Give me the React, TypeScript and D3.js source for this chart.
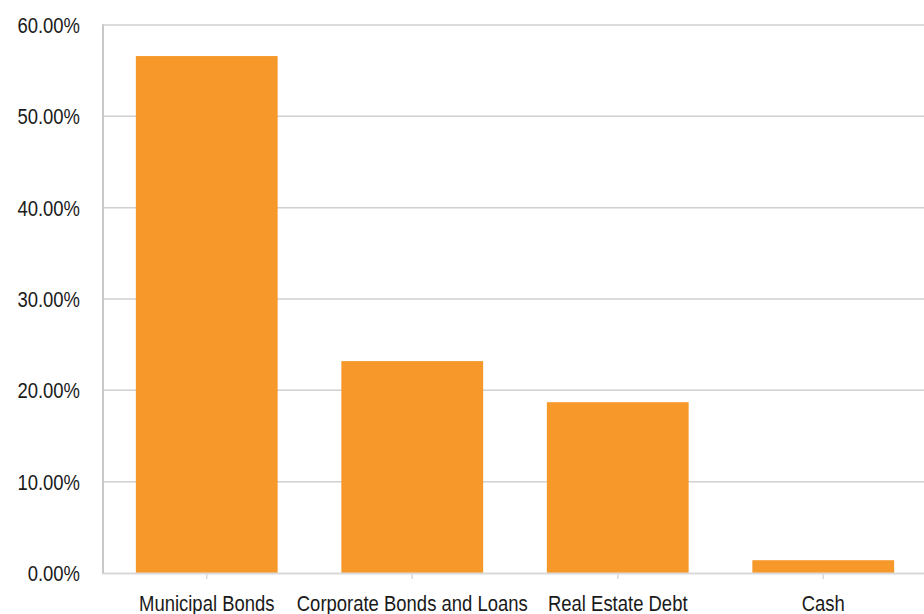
import React, { useEffect, useRef } from 'react';
import * as d3 from 'd3';

const categories = ['Municipal Bonds', 'Corporate Bonds and Loans', 'Real Estate Debt', 'Cash'];
const shares = [0.566, 0.232, 0.187, 0.014];
const yTicks = [0, 0.1, 0.2, 0.3, 0.4, 0.5, 0.6];

const width = 924;
const height = 614;
const margin = { top: 25, right: -2, bottom: 41, left: 104 };
const font = '"Liberation Sans", Arial, sans-serif';
const squeeze = 0.84;

export default function App() {
  const ref = useRef<SVGSVGElement>(null);

  useEffect(() => {
    const svg = d3.select(ref.current);
    svg.selectAll('*').remove();

    const x = d3.scaleBand<string>()
      .domain(categories)
      .range([margin.left, width - margin.right])
      .paddingInner(0.31)
      .paddingOuter(0.155);

    const y = d3.scaleLinear()
      .domain([0, 0.6])
      .range([height - margin.bottom, margin.top]);

    // gridlines
    svg.append('g')
      .selectAll('line')
      .data(yTicks.slice(1))
      .enter()
      .append('line')
      .attr('x1', margin.left - 1)
      .attr('x2', width)
      .attr('y1', d => y(d))
      .attr('y2', d => y(d))
      .attr('stroke', '#d0d0d0')
      .attr('stroke-width', 1.5);

    // left axis line
    svg.append('line')
      .attr('x1', margin.left - 1)
      .attr('x2', margin.left - 1)
      .attr('y1', y(0.6) - 0.75)
      .attr('y2', y(0) + 1)
      .attr('stroke', '#c8c8c8')
      .attr('stroke-width', 2);

    // bars
    svg.append('g')
      .selectAll('rect')
      .data(categories)
      .enter()
      .append('rect')
      .attr('x', d => x(d)!)
      .attr('width', x.bandwidth())
      .attr('y', (d, i) => y(shares[i]))
      .attr('height', (d, i) => y(0) - y(shares[i]))
      .attr('fill', '#f7992a');

    // bottom axis
    svg.append('line')
      .attr('x1', margin.left - 1)
      .attr('x2', width)
      .attr('y1', y(0) + 0.5)
      .attr('y2', y(0) + 0.5)
      .attr('stroke', '#d9d9d9')
      .attr('stroke-width', 2);

    svg.append('g')
      .selectAll('line')
      .data(categories)
      .enter()
      .append('line')
      .attr('x1', d => x(d)! + x.bandwidth() / 2)
      .attr('x2', d => x(d)! + x.bandwidth() / 2)
      .attr('y1', y(0) + 1)
      .attr('y2', y(0) + 6)
      .attr('stroke', '#d9d9d9')
      .attr('stroke-width', 1.5);

    // y labels
    svg.append('g')
      .selectAll('text')
      .data(yTicks)
      .enter()
      .append('text')
      .attr('transform', d => `translate(80,${y(d) + 8}) scale(${squeeze},1)`)
      .attr('text-anchor', 'end')
      .attr('font-family', font)
      .attr('font-size', 22)
      .attr('fill', '#1a1a1a')
      .text(d => (d * 100).toFixed(2) + '%');

    // x labels
    svg.append('g')
      .selectAll('text')
      .data(categories)
      .enter()
      .append('text')
      .attr('transform', d => `translate(${x(d)! + x.bandwidth() / 2},610.5) scale(${squeeze},1)`)
      .attr('text-anchor', 'middle')
      .attr('font-family', font)
      .attr('font-size', 22)
      .attr('fill', '#1a1a1a')
      .text(d => d);
  }, []);

  return (
    <svg
      ref={ref}
      width={width}
      height={height}
      style={{ position: 'absolute', left: 0, top: 0, background: '#fff' }}
    />
  );
}
